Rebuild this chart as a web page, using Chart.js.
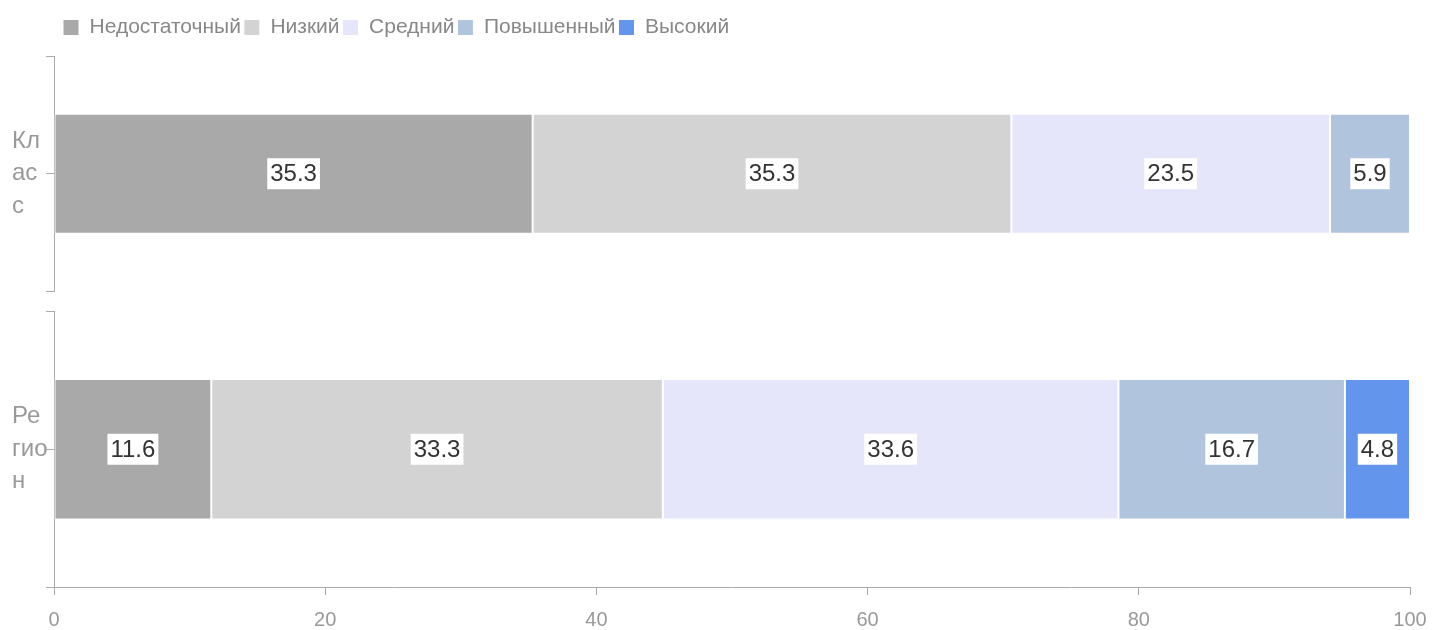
<!DOCTYPE html>
<html>
<head>
<meta charset="utf-8">
<script src="https://cdn.jsdelivr.net/npm/chart.js@4.4.0/dist/chart.umd.min.js"></script>
<style>
  html, body { margin: 0; padding: 0; background: #fff; }
  #wrap { width: 1434px; height: 630px; }
</style>
</head>
<body>
<div id="wrap"><canvas id="grafico"></canvas></div>
<script>
const categories = ['Класс', 'Регион'];
const categoryLabels = [['Кл', 'ас', 'с'], ['Ре', 'гио', 'н']];
const levels = ['Недостаточный', 'Низкий', 'Средний', 'Повышенный', 'Высокий'];
const classValues = [35.3, 35.3, 23.5, 5.9, 0];
const regionValues = [11.6, 33.3, 33.6, 16.7, 4.8];
const levelColors = ['#a9a9a9', '#d3d3d3', '#e6e6fa', '#b0c4de', '#6495ed'];
const xTicks = [0, 20, 40, 60, 80, 100];

const seriesByCategory = [classValues, regionValues];
const axisIds = ['yClass', 'yRegion'];

const datasets = [];
seriesByCategory.forEach((values, ci) => {
    levels.forEach((level, li) => {
        datasets.push({
            label: level,
            data: [null, values[li], null],
            yAxisID: axisIds[ci],
            grouped: false,
            backgroundColor: levelColors[li],
            borderColor: '#ffffff',
            borderWidth: 1,
            borderSkipped: false,
            barPercentage: 1,
            categoryPercentage: 1.02
        });
    });
});

// подписи значений на белом фоне
const valueLabels = {
    id: 'valueLabels',
    afterDatasetsDraw(chart) {
        const ctx = chart.ctx;
        ctx.save();
        ctx.font = '24px "Liberation Sans", Arial, sans-serif';
        ctx.textAlign = 'center';
        ctx.textBaseline = 'middle';
        chart.data.datasets.forEach((ds, i) => {
            const meta = chart.getDatasetMeta(i);
            if (meta.hidden) return;
            meta.data.forEach((bar, j) => {
                const v = ds.data[j];
                if (v === null || v === 0) return;
                const p = bar.getCenterPoint();
                const txt = String(v);
                const w = ctx.measureText(txt).width + 6;
                const h = 31;
                ctx.fillStyle = '#ffffff';
                ctx.fillRect(p.x - w / 2, p.y - h / 2, w, h);
                ctx.fillStyle = '#333333';
                ctx.fillText(txt, p.x, p.y + 1);
            });
        });
        ctx.restore();
    }
};

// место под легендой и сдвиг легенды вправо
const legendSpace = {
    id: 'legendSpace',
    afterInit(chart) {
        const legend = chart.legend;
        if (!legend || legend._patched) return;
        const fit = legend.fit;
        legend.fit = function () {
            fit.call(this);
            this.height += 8;
        };
        legend._patched = true;
    },
    afterLayout(chart) {
        if (chart.legend) chart.legend.left += 48;
    }
};

const fixWidth = (scale) => { scale.width = 42; };

const yCommon = {
    type: 'category',
    position: 'left',
    stack: 'y',
    offset: false,
    stacked: true,
    afterFit: fixWidth,
    border: { display: true, color: '#aaaaaa' },
    grid: { drawOnChartArea: false, offset: false, tickLength: 8, color: '#aaaaaa' },
    ticks: {
        crossAlign: 'far',
        autoSkip: false,
        maxRotation: 0,
        padding: 0,
        color: '#999999',
        font: { family: '"Liberation Sans", Arial, sans-serif', size: 24, lineHeight: 1.35 }
    }
};

new Chart(document.getElementById('grafico'), {
    type: 'bar',
    data: { datasets },
    plugins: [valueLabels, legendSpace],
    options: {
        indexAxis: 'y',
        responsive: true,
        maintainAspectRatio: false,
        animation: false,
        layout: { autoPadding: false, padding: { left: 12, right: 24, top: 14, bottom: 0 } },
        scales: {
            x: {
                type: 'linear',
                stacked: true,
                min: xTicks[0],
                max: xTicks[xTicks.length - 1],
                afterBuildTicks: (scale) => { scale.ticks = xTicks.map(v => ({ value: v })); },
                afterFit: (scale) => {
                    scale.height = 43;
                    scale.paddingLeft = 0;
                    scale.paddingRight = 0;
                },
                border: { color: '#aaaaaa' },
                grid: { drawOnChartArea: false, tickLength: 8, color: '#aaaaaa' },
                ticks: {
                    color: '#999999',
                    padding: 15,
                    font: { family: '"Liberation Sans", Arial, sans-serif', size: 20, lineHeight: 1 }
                }
            },
            yRegion: Object.assign({}, yCommon, {
                labels: ['', categoryLabels[1], ''],
                stackWeight: 275
            }),
            yGap: {
                type: 'category',
                position: 'left',
                stack: 'y',
                stackWeight: 20,
                labels: [''],
                afterFit: fixWidth,
                border: { display: false },
                grid: { display: false },
                ticks: { display: false }
            },
            yClass: Object.assign({}, yCommon, {
                labels: ['', categoryLabels[0], ''],
                stackWeight: 235
            })
        },
        plugins: {
            legend: {
                position: 'top',
                align: 'start',
                labels: {
                    boxWidth: 16,
                    boxHeight: 16,
                    padding: 3,
                    color: '#888888',
                    font: { family: '"Liberation Sans", Arial, sans-serif', size: 21 },
                    filter: (item) => item.datasetIndex >= levels.length
                }
            },
            tooltip: { enabled: true }
        }
    }
});
</script>
</body>
</html>
